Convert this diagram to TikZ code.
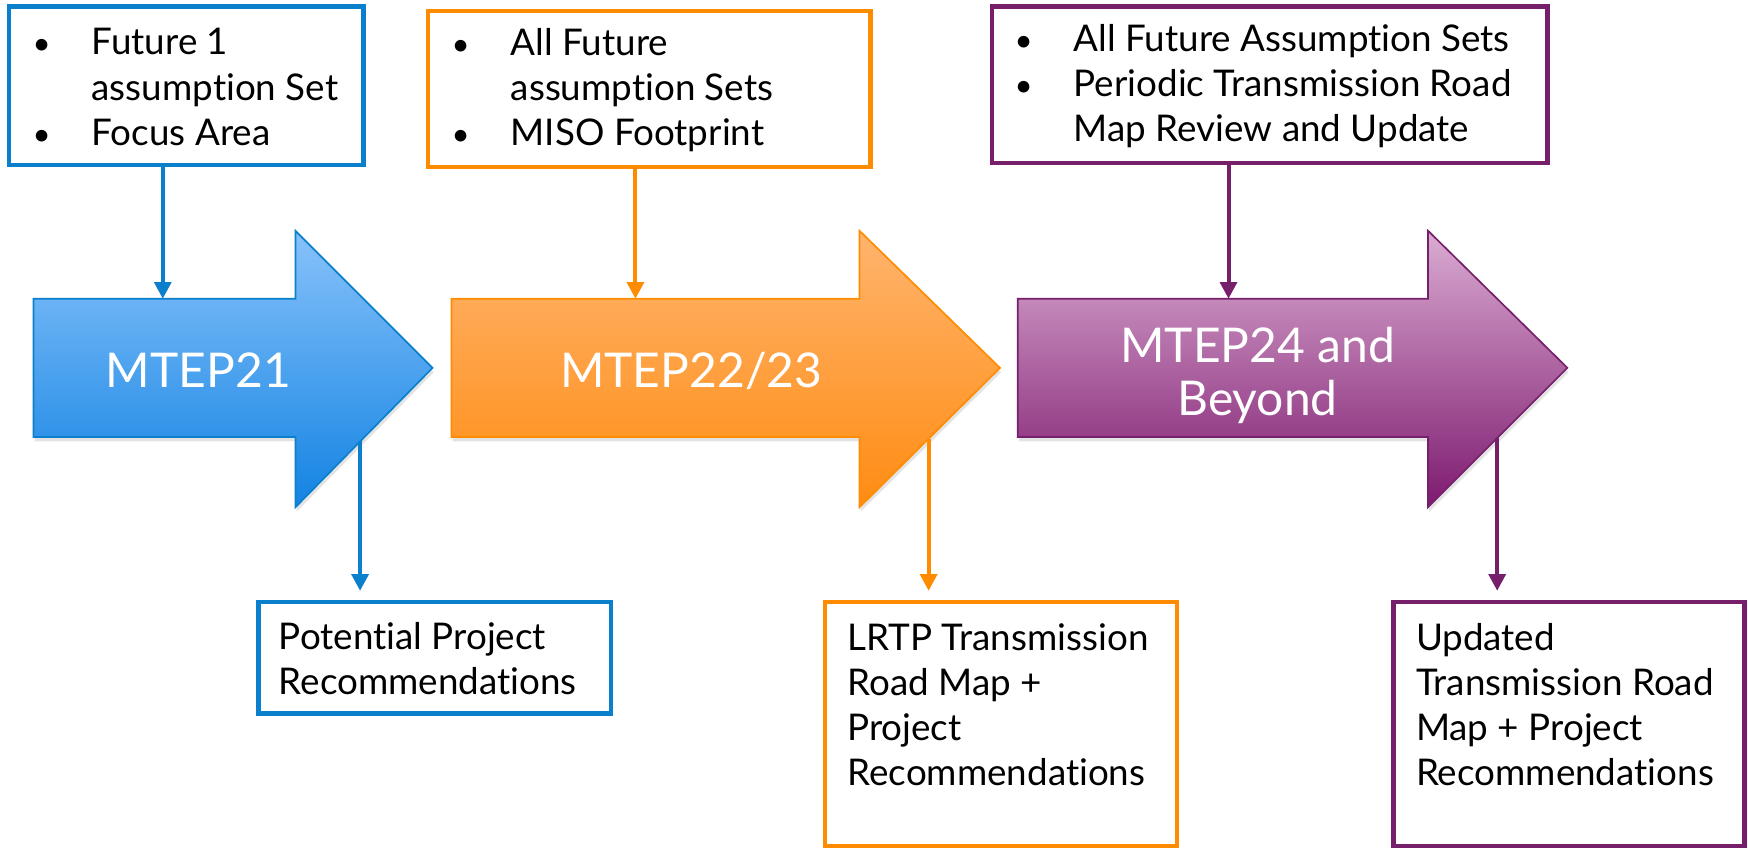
\documentclass[tikz,border=0pt]{standalone}
\usepackage{fontspec}
\setmainfont{Lato}[RawFeature={-liga;-clig;-calt;-dlig}]
\usetikzlibrary{shadows,arrows.meta}
\definecolor{bluebd}{HTML}{0A80CC}
\definecolor{bluetop}{HTML}{88C2FB}
\definecolor{bluebot}{HTML}{1283E2}
\definecolor{orbd}{HTML}{FF8C00}
\definecolor{ortop}{HTML}{FFB46E}
\definecolor{orbot}{HTML}{FF8C12}
\definecolor{pubd}{HTML}{76206C}
\definecolor{putop}{HTML}{DAACD2}
\definecolor{pubot}{HTML}{7E1A6F}
\newcommand{\bl}{\makebox[54pt][l]{\hspace*{1pt}\scalebox{0.85}{\textbullet}}}
\newcommand{\ind}{\hspace*{54pt}}
\tikzset{
  box/.style={draw=#1, line width=4pt, fill=white, inner sep=0pt},
  boxtext/.style={align=left, font=\fontsize{33}{40.5}\selectfont, inner sep=0pt},
  bigarrow/.style={draw=#1, line width=1.5pt, line join=miter,
     drop shadow={shadow xshift=1pt, shadow yshift=-4pt, opacity=0.22}},
  bigtext/.style={text=white, font=\fontsize{43}{48}\selectfont, align=center, inner sep=0pt},
  conn/.style={draw=#1, line width=3.6pt, -{Triangle[width=15pt,length=15pt]}}
}
\begin{document}
\begin{tikzpicture}[x=1pt,y=-1pt]
\useasboundingbox (0,0) rectangle (1568,760);
% big arrows
\path[bigarrow=bluebd, top color=bluetop, bottom color=bluebot]
  (30,268) -- (265,268) -- (265,207) -- (388,330) -- (265,455) -- (265,392) -- (30,392) -- cycle;
\path[bigarrow=orbd, top color=ortop, bottom color=orbot]
  (405,268) -- (771,268) -- (771,207) -- (897,330) -- (771,455) -- (771,392) -- (405,392) -- cycle;
\path[bigarrow=pubd, top color=putop, bottom color=pubot]
  (913,268) -- (1281,268) -- (1281,207) -- (1406,330) -- (1281,455) -- (1281,392) -- (913,392) -- cycle;
\node[bigtext, anchor=base] (m1) at (178,348) {MTEP21};
\node[bigtext, anchor=base] (m2) at (620,348) {MTEP22/23};
\node[bigtext, anchor=base] (m3) at (1128,373) {MTEP24 and\\Beyond};
% named points on the big arrows
\coordinate (a1in) at (146,268);
\coordinate (a2in) at (570,268);
\coordinate (a3in) at (1102,268);
\coordinate (a1out) at (323,396);
\coordinate (a2out) at (833,394);
\coordinate (a3out) at (1343,393);
% top boxes
\node[box=bluebd, minimum width=318pt, minimum height=142pt] (t1) at (167,77) {};
\node[boxtext, anchor=west] (t1t) at (28,78) {\bl Future 1\\\ind assumption Set\\\bl Focus Area};
\node[box=orbd, minimum width=397pt, minimum height=140pt] (t2) at (582.5,80) {};
\node[boxtext, anchor=west] (t2t) at (404,81) {\bl All Future\\\ind assumption Sets\\\bl MISO Footprint};
\node[box=pubd, minimum width=498pt, minimum height=140pt] (t3) at (1139,76) {};
\node[boxtext, anchor=west] (t3t) at (909,77) {\bl All Future Assumption Sets\\\bl Periodic Transmission Road\\\ind Map Review and Update};
% bottom boxes
\node[box=bluebd, minimum width=316pt, minimum height=100pt] (b1) at (390,590) {};
\node[boxtext, anchor=west] (b1t) at (250,591) {Potential Project\\Recommendations};
\node[box=orbd, minimum width=316pt, minimum height=219pt] (b2) at (898,649.5) {};
\node[boxtext, anchor=base west] (b2t) at (760,705) {LRTP Transmission\\Road Map +\\Project\\Recommendations};
\node[box=pubd, minimum width=315pt, minimum height=219pt] (b3) at (1407.5,649.5) {};
\node[boxtext, anchor=base west] (b3t) at (1270,705) {Updated\\Transmission Road\\Map + Project\\Recommendations};
% connectors
\draw[conn=bluebd] (a1in |- t1.south) -- (a1in);
\draw[conn=orbd] (a2in |- t2.south) -- (a2in);
\draw[conn=pubd] (a3in |- t3.south) -- (a3in);
\draw[conn=bluebd, shorten >=8pt] (a1out) -- (a1out |- b1.north);
\draw[conn=orbd, shorten >=8pt] (a2out) -- (a2out |- b2.north);
\draw[conn=pubd, shorten >=8pt] (a3out) -- (a3out |- b3.north);
\end{tikzpicture}
\end{document}
